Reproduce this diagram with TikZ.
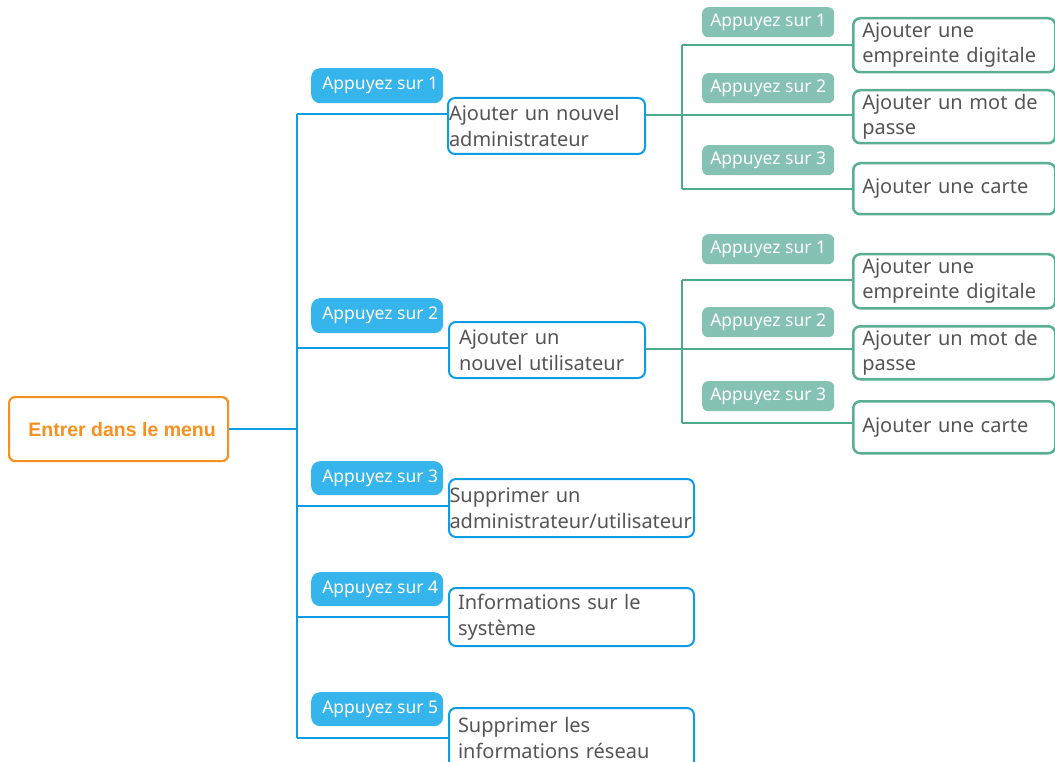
\documentclass[tikz,border=0pt]{standalone}
\usepackage{fontspec}
\newfontfamily\notos{Noto Sans}
\newfontfamily\rootfont{Liberation Sans}
\definecolor{orangec}{HTML}{F7901E}
\definecolor{bluel}{HTML}{0E9DE3}
\definecolor{blueb}{HTML}{36B4EC}
\definecolor{greenl}{HTML}{4DAA8A}
\definecolor{greenbd}{HTML}{5AAE92}
\definecolor{greenb}{HTML}{86C2B3}
\definecolor{txt}{HTML}{555555}
\tikzset{
  rootbox/.style={draw=orangec, line width=2.2pt, rounded corners=6pt, fill=white, text=orangec,
    font=\rootfont\bfseries\fontsize{19.5}{23}\selectfont, anchor=north west, inner sep=0pt},
  bbox/.style={draw=bluel, line width=2pt, rounded corners=7pt, fill=white, text=txt, align=left,
    font=\notos\fontsize{20}{25.5}\selectfont, anchor=north west, inner ysep=0pt},
  gbox/.style={draw=greenbd, line width=2.5pt, rounded corners=7pt, fill=white, text=txt, align=left,
    font=\notos\fontsize{20}{25.5}\selectfont, anchor=north west, inner ysep=0pt, inner xsep=9pt, text width=184pt},
  bbadge/.style={fill=blueb, rounded corners=9pt, text=white, anchor=north west, inner sep=0pt,
    minimum width=132pt, font=\notos\fontsize{17.5}{20}\selectfont},
  gbadge/.style={fill=greenb, rounded corners=6pt, text=white, anchor=north west, inner sep=0pt,
    minimum width=132pt, minimum height=30pt, font=\notos\fontsize{17.5}{20}\selectfont},
  bline/.style={draw=bluel, line width=2pt},
  gline/.style={draw=greenl, line width=2.5pt}
}
\begin{document}
\begin{tikzpicture}[x=1pt,y=-1pt]
\useasboundingbox (0,0) rectangle (1055,762);
% junctions
\coordinate (j1) at (297,114);
\coordinate (j2) at (297,348);
\coordinate (j3) at (297,506);
\coordinate (j4) at (297,617);
\coordinate (j5) at (297,738);
\coordinate (ga) at (682,45);
\coordinate (gb) at (682,115);
\coordinate (gc) at (682,189);
\coordinate (ha) at (682,280);
\coordinate (hb) at (682,349);
\coordinate (hc) at (682,423);
% root
\node[rootbox, minimum width=219pt, minimum height=64pt] (root) at (8,396) {\hspace*{7pt}Entrer dans le menu};
% level 1 boxes
\node[bbox, inner xsep=1pt, text width=195pt, minimum height=56pt] (b1) at (447,97) {Ajouter un nouvel\\administrateur};
\node[bbox, inner xsep=10pt, text width=176pt, minimum height=56pt] (b2) at (448,321) {Ajouter un\\nouvel utilisateur};
\node[bbox, inner xsep=0.5pt, text width=244pt, minimum height=58pt] (b3) at (448,478) {Supprimer un\\administrateur/utilisateur};
\node[bbox, inner xsep=9pt, text width=227pt, minimum height=58pt] (b4) at (448,587) {Informations sur le\\système};
\node[bbox, inner xsep=9pt, text width=227pt, minimum height=60pt] (b5) at (448,707) {Supprimer les\\informations réseau};
% level 2 boxes
\node[gbox, minimum height=54pt] (g11) at (852,17) {Ajouter une\\empreinte digitale};
\node[gbox, minimum height=53pt] (g12) at (852,89) {Ajouter un mot de\\passe};
\node[gbox, minimum height=51pt] (g13) at (852,162) {Ajouter une carte};
\node[gbox, minimum height=54pt] (g21) at (852,253) {Ajouter une\\empreinte digitale};
\node[gbox, minimum height=53pt] (g22) at (852,325) {Ajouter un mot de\\passe};
\node[gbox, minimum height=52pt] (g23) at (852,400) {Ajouter une carte};
% connectors
\draw[bline] (root.east) -- (root.east -| j1);
\draw[bline] (j1) -- (j5);
\draw[bline] (j1) -- (j1 -| b1.west);
\draw[bline] (j2) -- (j2 -| b2.west);
\draw[bline] (j3) -- (j3 -| b3.west);
\draw[bline] (j4) -- (j4 -| b4.west);
\draw[bline] (j5) -- (j5 -| b5.west);
\draw[gline] (b1.east |- gb) -- (gb -| g12.west);
\draw[gline] (ga) -- (gc);
\draw[gline] (ga) -- (ga -| g11.west);
\draw[gline] (gc) -- (gc -| g13.west);
\draw[gline] (b2.east |- hb) -- (hb -| g22.west);
\draw[gline] (ha) -- (hc);
\draw[gline] (ha) -- (ha -| g21.west);
\draw[gline] (hc) -- (hc -| g23.west);
% badges
\node[bbadge, minimum height=35pt] (p1) at (311,68) {\hspace*{6pt}Appuyez sur 1};
\node[bbadge, minimum height=35pt] (p2) at (311,298) {\hspace*{6pt}Appuyez sur 2};
\node[bbadge, minimum height=34pt] (p3) at (311,461) {\hspace*{6pt}Appuyez sur 3};
\node[bbadge, minimum height=34pt] (p4) at (311,572) {\hspace*{6pt}Appuyez sur 4};
\node[bbadge, minimum height=34pt] (p5) at (311,692) {\hspace*{6pt}Appuyez sur 5};
\node[gbadge] (q11) at (702,7) {Appuyez sur 1};
\node[gbadge] (q12) at (702,73) {Appuyez sur 2};
\node[gbadge] (q13) at (702,145) {Appuyez sur 3};
\node[gbadge] (q21) at (702,234) {Appuyez sur 1};
\node[gbadge] (q22) at (702,307) {Appuyez sur 2};
\node[gbadge] (q23) at (702,381) {Appuyez sur 3};
\end{tikzpicture}
\end{document}
